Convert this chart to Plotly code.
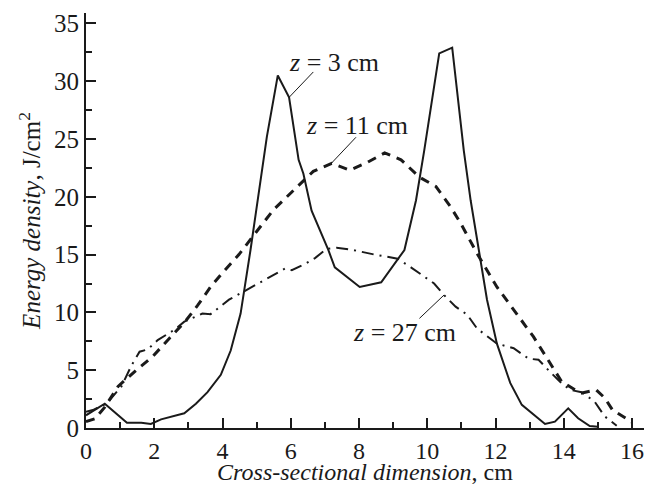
import plotly.graph_objects as go

# z = 3 cm (solid)
solid_x = [0, 0.55, 1.2, 1.62, 1.9, 2.2, 2.88, 3.22, 3.56, 3.95, 4.24, 4.53, 4.82, 5.06, 5.3, 5.62,
           5.95, 6.23, 6.37, 6.61, 7.1, 7.29, 8.02, 8.65, 9.33, 9.67, 9.91, 10.35, 10.73, 11.07,
           11.27, 11.51, 11.75, 12.04, 12.43, 12.77, 13.45, 13.74, 14.13, 14.42, 14.76, 15.0]
solid_y = [1.1, 2.1, 0.45, 0.45, 0.35, 0.75, 1.27, 2.1, 3.1, 4.6, 6.7, 9.9, 15.4, 20.3, 25.2, 30.5,
           28.6, 23.2, 22.0, 18.8, 15.4, 13.9, 12.2, 12.6, 15.4, 19.7, 24.0, 32.4, 32.9, 24.0,
           19.7, 15.4, 11.1, 7.3, 3.9, 2.0, 0.35, 0.55, 1.7, 0.84, 0.17, 0.1]

# z = 11 cm (dashed)
dashed_x = [0, 0.26, 0.55, 0.94, 1.47, 1.96, 2.44, 2.93, 3.27, 3.65, 3.99, 4.48, 5.0, 5.5, 6.13,
            6.66, 7.2, 7.73, 8.26, 8.75, 9.23, 9.77, 10.25, 10.69, 10.98, 11.46, 12.04, 12.53,
            13.11, 13.6, 13.94, 14.5, 14.95, 15.2, 15.43, 15.9, 16.0]
dashed_y = [0.55, 0.8, 1.8, 3.6, 5.0, 6.2, 7.75, 9.3, 10.6, 12.2, 13.4, 15.0, 17.0, 18.9, 20.7,
            22.2, 22.9, 22.3, 23.0, 23.8, 23.2, 21.7, 20.9, 19.1, 17.7, 15.1, 12.2, 10.2,
            7.9, 5.6, 4.0, 3.0, 3.3, 2.6, 1.55, 0.7, 0.5]

# z = 27 cm (dash-dot)
dashdot_x = [0, 0.2, 0.6, 1.04, 1.33, 1.57, 1.81, 2.1, 2.59, 2.88, 3.41, 3.65, 4.19, 4.67, 5.26,
             5.84, 6.03, 6.42, 6.71, 7.05, 7.34, 7.82, 8.46, 8.89, 9.13, 9.52, 9.91, 10.2, 10.49,
             10.83, 11.17, 11.46, 12.04, 12.53, 12.97, 13.26, 13.55, 13.89, 14.18, 14.52, 14.9,
             15.2, 15.55]
dashdot_y = [1.4, 1.55, 2.1, 3.6, 5.4, 6.6, 6.8, 7.6, 8.5, 9.2, 9.9, 9.85, 11.1, 11.9, 12.9,
             13.8, 13.65, 14.2, 14.7, 15.5, 15.6, 15.4, 15.0, 14.8, 14.65, 13.9, 13.1, 12.5, 11.5,
             10.5, 9.8, 8.6, 7.3, 6.9, 6.0, 5.9, 5.0, 4.0, 3.3, 3.1, 2.3,
             1.0, 0.2]

x_ticks = [0, 2, 4, 6, 8, 10, 12, 14, 16]
y_ticks = [0, 5, 10, 15, 20, 25, 30, 35]

labels = ["<i>z</i> = 3 cm", "<i>z</i> = 11 cm", "<i>z</i> = 27 cm"]
label_x = [7.27, 7.94, 9.34]
label_y = [31.6, 26.2, 8.3]
leader_x0 = [6.66, 7.91, 9.77]
leader_y0 = [30.8, 25.15, 9.48]
leader_x1 = [5.95, 7.19, 10.49]
leader_y1 = [28.6, 22.9, 11.5]

FONT = "Liberation Serif"
INK = "#1a1a1a"

fig = go.Figure()
fig.add_trace(go.Scatter(x=solid_x, y=solid_y, mode="lines",
                         line=dict(color=INK, width=2), showlegend=False))
fig.add_trace(go.Scatter(x=dashed_x, y=dashed_y, mode="lines",
                         line=dict(color=INK, width=3, dash="9px,7px"), showlegend=False))
fig.add_trace(go.Scatter(x=dashdot_x, y=dashdot_y, mode="lines",
                         line=dict(color=INK, width=2, dash="12px,6px,2px,6px"), showlegend=False))

for t, lx, ly, x0, y0, x1, y1 in zip(labels, label_x, label_y, leader_x0, leader_y0, leader_x1, leader_y1):
    fig.add_annotation(x=lx, y=ly, text=t, showarrow=False,
                       font=dict(family=FONT, size=26, color=INK))
    fig.add_shape(type="line", x0=x0, y0=y0, x1=x1, y1=y1, xref="x", yref="y",
                  line=dict(color=INK, width=1))

fig.update_layout(
    width=636, height=477,
    margin=dict(l=78, r=0, t=5, b=57, autoexpand=False),
    paper_bgcolor="white", plot_bgcolor="white",
    font=dict(family=FONT, size=24, color=INK),
    xaxis=dict(range=[0, 16.35], tickvals=x_ticks, showgrid=False, zeroline=False,
               showline=True, linewidth=2, linecolor=INK, automargin=False,
               ticklabeloverflow="allow",
               ticks="inside", ticklen=10, tickwidth=2, tickcolor=INK,
               minor=dict(ticks="inside", ticklen=6, tickwidth=1.5, dtick=1, tickcolor=INK),
               tickfont=dict(family=FONT, size=24, color=INK),
               title=dict(text="<i>Cross-sectional dimension</i>, cm",
                          font=dict(family=FONT, size=24, color=INK), standoff=2)),
    yaxis=dict(range=[0, 35.9], tickvals=y_ticks, showgrid=False, zeroline=False,
               showline=True, linewidth=2, linecolor=INK, automargin=False,
               ticks="inside", ticklen=10, tickwidth=2, tickcolor=INK,
               minor=dict(ticks="inside", ticklen=6, tickwidth=1.5, dtick=2.5, tickcolor=INK),
               tickfont=dict(family=FONT, size=25, color=INK),
               title=dict(text="<i>Energy density</i>, J/cm<sup>2</sup>",
                          font=dict(family=FONT, size=25, color=INK), standoff=6)),
)

fig.write_html("out.html")
